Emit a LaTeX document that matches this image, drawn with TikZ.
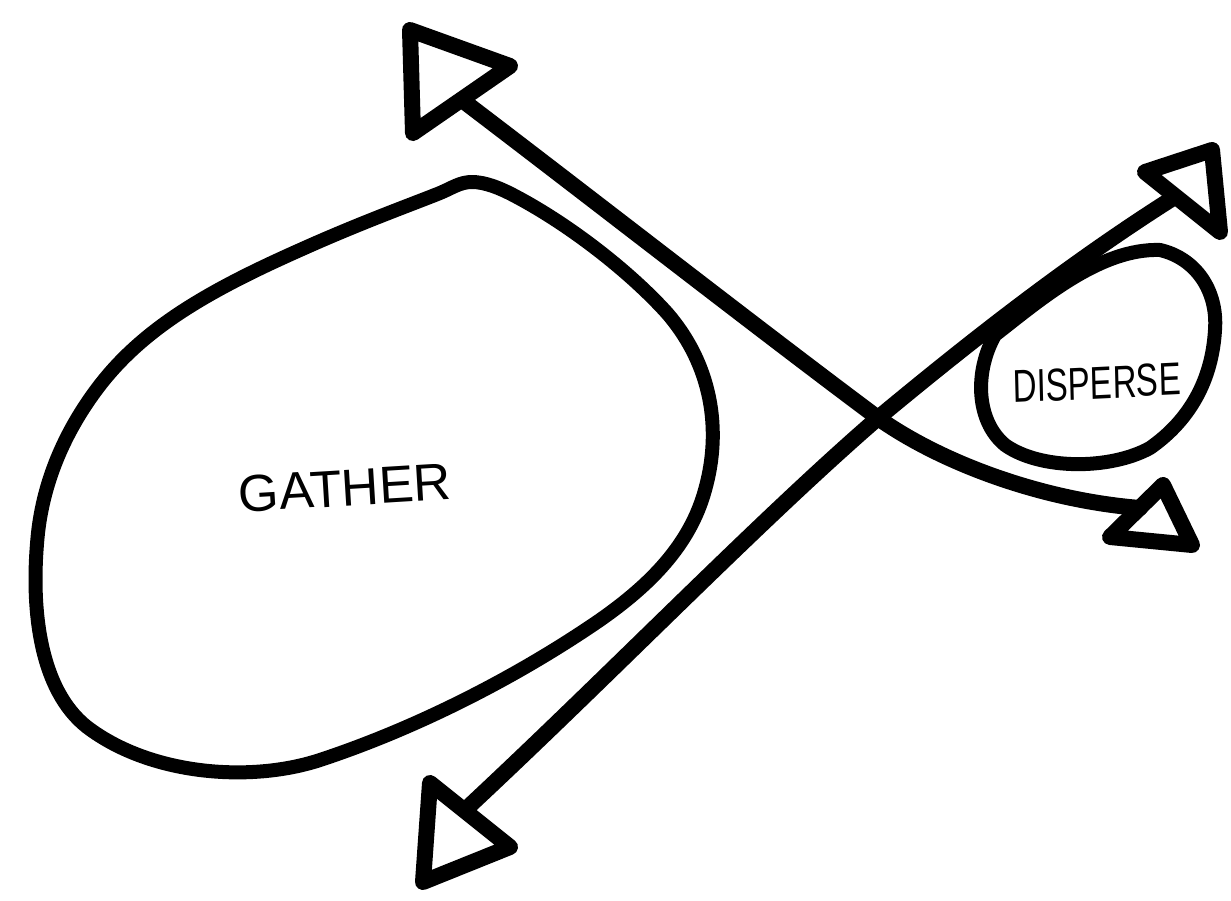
\documentclass[tikz,border=0pt]{standalone}
\usepackage{fontspec}
\setmainfont{Liberation Sans}
\begin{document}
\begin{tikzpicture}[x=1pt,y=-1pt,
  ink/.style={draw=black,line width=16pt,line cap=round,line join=round},
  blobink/.style={draw=black,line width=14pt,line cap=round,line join=round},
  headtri/.style={draw=black,line width=16pt,line cap=round,line join=round},
  label/.style={font=\fontsize{52}{58}\selectfont,inner sep=0pt}]
\useasboundingbox[fill=white] (0,0) rectangle (1231,901);
% big blob
\draw[blobink] (472,182) .. controls (485,182) and (500,188) .. (515,196)
  .. controls (570,225) and (630,272) .. (667,313)
  .. controls (712,365) and (722,430) .. (705,490)
  .. controls (690,545) and (650,585) .. (600,620)
  .. controls (520,675) and (420,727) .. (320,760)
  .. controls (250,783) and (150,775) .. (87,727)
  .. controls (40,690) and (30,610) .. (38,533)
  .. controls (45,470) and (73,420) .. (100,385)
  .. controls (145,327) and (210,290) .. (300,250)
  .. controls (360,223) and (410,205) .. (440,193)
  .. controls (452,188) and (460,182) .. (472,182) -- cycle;
% small blob
\draw[blobink] (1160,250) .. controls (1195,258) and (1218,290) .. (1215,330)
  .. controls (1212,380) and (1190,420) .. (1150,448)
  .. controls (1110,470) and (1040,470) .. (1005,445)
  .. controls (975,420) and (975,370) .. (995,335)
  .. controls (1040,300) and (1100,248) .. (1160,250) -- cycle;
% labels
\node[label,rotate=3.5] (gather) at (345,488) {GATHER};
\node[label,font=\fontsize{46}{52}\selectfont,xscale=0.72,rotate=2] (disperse) at (1097,383) {DISPERSE};
% coordinates of shaft ends and crossing
\coordinate (s1a) at (462,100);
\coordinate (s1b) at (1140,508);
\coordinate (s2a) at (465,810);
\coordinate (s2b) at (1170,200);
\coordinate (x) at (878,418);
% arrowheads
\coordinate (h1a) at (410,30); \coordinate (h1b) at (510,66); \coordinate (h1c) at (413,133);
\coordinate (h2a) at (1145,172); \coordinate (h2b) at (1212,150); \coordinate (h2c) at (1220,232);
\coordinate (h3a) at (1163,485); \coordinate (h3b) at (1192,545); \coordinate (h3c) at (1110,537);
\coordinate (h4a) at (430,783); \coordinate (h4b) at (510,847); \coordinate (h4c) at (423,882);
\draw[headtri] (h1a) -- (h1b) -- (h1c) -- cycle;
\draw[headtri] (h2a) -- (h2b) -- (h2c) -- cycle;
\draw[headtri] (h3a) -- (h3b) -- (h3c) -- cycle;
\draw[headtri] (h4a) -- (h4b) -- (h4c) -- cycle;
% shafts
\draw[ink] (s1a) .. controls (600,205) and (760,330) .. (x)
                 .. controls (940,462) and (1040,500) .. (s1b);
\draw[ink] (s2a) .. controls (610,675) and (760,520) .. (x)
                 .. controls (960,350) and (1060,270) .. (s2b);
\end{tikzpicture}
\end{document}
